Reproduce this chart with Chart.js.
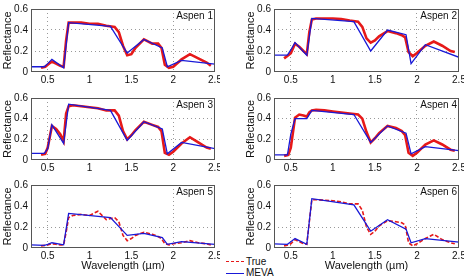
<!DOCTYPE html>
<html>
<head>
<meta charset="utf-8">
<script src="https://cdn.jsdelivr.net/npm/chart.js@4"></script>
<style>
    body { margin: 0; background: #fff; width: 471px; height: 278px; position: relative; overflow: hidden; font-family: "Liberation Sans", Arial, sans-serif; }
    canvas { position: absolute; }
    .lg-line { position: absolute; width: 18px; height: 0; }
    .lg-text { position: absolute; font-size: 10px; line-height: 12px; color: #111; }
</style>
</head>
<body>
<div class="lg-line" style="left:226px;top:261px;border-top:1.5px dashed rgb(230,25,25);"></div>
<div class="lg-text" style="left:246px;top:256px;">True</div>
<div class="lg-line" style="left:226px;top:273px;border-top:1.5px solid rgb(25,25,215);"></div>
<div class="lg-text" style="left:246px;top:267px;">MEVA</div>
<script>
// wavelengths (µm)
const trueWavelengths = [0.42, 0.47, 0.5, 0.55, 0.6, 0.65, 0.69, 0.72, 0.75, 0.8, 0.9, 1.0, 1.1, 1.2, 1.3, 1.35,
    1.4, 1.45, 1.5, 1.55, 1.65, 1.75, 1.82, 1.86, 1.9, 1.95, 2.0, 2.1, 2.2, 2.3, 2.4, 2.45];
const mevaWavelengths = [0.3, 0.46, 0.5, 0.55, 0.69, 0.75, 1.25, 1.45, 1.65, 1.87, 1.93, 2.1, 2.5];

// reflectance, true spectra
const aspen1True = [0.04, 0.05, 0.07, 0.10, 0.08, 0.06, 0.05, 0.30, 0.47, 0.47, 0.47, 0.46, 0.46, 0.44, 0.43, 0.38,
    0.25, 0.16, 0.17, 0.23, 0.31, 0.27, 0.27, 0.23, 0.07, 0.04, 0.05, 0.12, 0.17, 0.13, 0.09, 0.06];
const aspen2True = [0.13, 0.16, 0.18, 0.27, 0.24, 0.20, 0.17, 0.38, 0.50, 0.51, 0.51, 0.51, 0.505, 0.49, 0.48, 0.43,
    0.32, 0.28, 0.30, 0.34, 0.39, 0.37, 0.35, 0.33, 0.19, 0.15, 0.18, 0.25, 0.29, 0.25, 0.20, 0.19];
const aspen3True = [0.05, 0.06, 0.12, 0.33, 0.30, 0.25, 0.18, 0.45, 0.52, 0.53, 0.52, 0.51, 0.50, 0.48, 0.48, 0.43,
    0.28, 0.20, 0.24, 0.29, 0.37, 0.34, 0.32, 0.28, 0.07, 0.05, 0.08, 0.16, 0.22, 0.17, 0.12, 0.11];
const aspen4True = [0.04, 0.05, 0.12, 0.41, 0.44, 0.43, 0.42, 0.46, 0.48, 0.485, 0.48, 0.47, 0.46, 0.45, 0.44, 0.40,
    0.27, 0.17, 0.21, 0.26, 0.33, 0.31, 0.28, 0.24, 0.07, 0.04, 0.07, 0.15, 0.19, 0.15, 0.10, 0.09];
const aspen5True = [0.02, 0.025, 0.03, 0.04, 0.035, 0.03, 0.03, 0.15, 0.29, 0.31, 0.32, 0.31, 0.35, 0.27, 0.29, 0.25,
    0.12, 0.07, 0.09, 0.12, 0.15, 0.13, 0.11, 0.09, 0.04, 0.03, 0.04, 0.05, 0.07, 0.05, 0.04, 0.03];
const aspen6True = [0.02, 0.03, 0.04, 0.08, 0.06, 0.04, 0.035, 0.25, 0.46, 0.46, 0.455, 0.45, 0.44, 0.42, 0.42, 0.36,
    0.20, 0.13, 0.16, 0.21, 0.26, 0.25, 0.24, 0.22, 0.05, 0.02, 0.04, 0.09, 0.13, 0.08, 0.05, 0.04];

// reflectance, MEVA estimates
const aspen1Meva = [0.05, 0.05, 0.08, 0.12, 0.04, 0.47, 0.435, 0.18, 0.31, 0.23, 0.05, 0.11, 0.075];
const aspen2Meva = [0.16, 0.16, 0.21, 0.28, 0.16, 0.51, 0.48, 0.20, 0.40, 0.355, 0.08, 0.26, 0.14];
const aspen3Meva = [0.065, 0.065, 0.11, 0.34, 0.16, 0.54, 0.48, 0.19, 0.37, 0.30, 0.06, 0.17, 0.11];
const aspen4Meva = [0.05, 0.05, 0.25, 0.40, 0.40, 0.48, 0.44, 0.17, 0.33, 0.26, 0.06, 0.13, 0.09];
const aspen5Meva = [0.03, 0.025, 0.035, 0.05, 0.03, 0.33, 0.29, 0.12, 0.14, 0.10, 0.035, 0.06, 0.035];
const aspen6Meva = [0.04, 0.035, 0.06, 0.09, 0.035, 0.47, 0.41, 0.16, 0.27, 0.18, 0.05, 0.09, 0.055];

const panelNames = ['Aspen 1', 'Aspen 2', 'Aspen 3', 'Aspen 4', 'Aspen 5', 'Aspen 6'];
const trueSeries = [aspen1True, aspen2True, aspen3True, aspen4True, aspen5True, aspen6True];
const mevaSeries = [aspen1Meva, aspen2Meva, aspen3Meva, aspen4Meva, aspen5Meva, aspen6Meva];
const xTicks = [0.5, 1, 1.5, 2, 2.5];
const yTicks = [0, 0.2, 0.4, 0.6];

// grid lines that show up in the picture
const xGridShown = [0.5, 2];
const yGridShownTop = [0.2, 0.4];
const yGridShownBottom = [0.2];

// canvas placement for each row / column
const cols = [{ left: 0, width: 220 }, { left: 243, width: 221 }];
const rows = [
    { top: 0, height: 92, padTop: 9, axisH: 20, xTitle: false },
    { top: 88, height: 92, padTop: 10, axisH: 20, xTitle: false },
    { top: 176, height: 102, padTop: 9, axisH: 30, xTitle: true }
];

const RED = 'rgb(230,25,25)';
const BLUE = 'rgb(25,25,215)';
const GRID = '#999';
const FONT = { family: '"Liberation Sans", Arial, sans-serif', size: 10 };

const framePlugin = {
    id: 'frame',
    afterDatasetsDraw(chart, args, opts) {
        const { ctx, chartArea: a } = chart;
        ctx.save();
        ctx.strokeStyle = '#555';
        ctx.lineWidth = 1;
        ctx.strokeRect(Math.round(a.left) + 0.5, Math.round(a.top) + 0.5,
            Math.round(a.right - a.left) - 1, Math.round(a.bottom - a.top) - 1);
        ctx.fillStyle = '#111';
        ctx.font = '10px "Liberation Sans", Arial, sans-serif';
        ctx.textAlign = 'right';
        ctx.textBaseline = 'middle';
        ctx.fillText(opts.label, a.right - 2, a.top + 7);
        ctx.restore();
    }
};

function makePanel(i) {
    const col = cols[i % 2];
    const row = rows[Math.floor(i / 2)];
    const canvas = document.createElement('canvas');
    canvas.width = col.width;
    canvas.height = row.height;
    canvas.style.left = col.left + 'px';
    canvas.style.top = row.top + 'px';
    canvas.style.width = col.width + 'px';
    canvas.style.height = row.height + 'px';
    document.body.appendChild(canvas);

    const dashed = i >= 4;
    const yGridShown = i >= 4 ? yGridShownBottom : yGridShownTop;

    new Chart(canvas.getContext('2d'), {
        type: 'line',
        data: {
            datasets: [{
                label: 'True',
                data: trueWavelengths.map((w, k) => ({ x: w, y: trueSeries[i][k] })),
                borderColor: RED,
                borderWidth: dashed ? 1.6 : 2.6,
                borderDash: dashed ? [4, 2] : [],
                pointRadius: 0,
                tension: 0,
                order: 1
            }, {
                label: 'MEVA',
                data: mevaWavelengths.map((w, k) => ({ x: w, y: mevaSeries[i][k] })),
                borderColor: BLUE,
                borderWidth: 1.3,
                pointRadius: 0,
                tension: 0,
                order: 0
            }]
        },
        options: {
            responsive: false,
            animation: false,
            devicePixelRatio: 1,
            layout: { padding: { top: row.padTop, right: 5, left: 0, bottom: 0 } },
            plugins: {
                legend: { display: false },
                tooltip: { enabled: false },
                frame: { label: panelNames[i] }
            },
            scales: {
                x: {
                    type: 'linear',
                    min: 0.3,
                    max: 2.5,
                    afterBuildTicks: s => { s.ticks = xTicks.map(v => ({ value: v })); },
                    afterFit: s => { s.height = row.axisH; s.paddingLeft = 0; s.paddingRight = 0; },
                    ticks: { font: FONT, color: '#111', padding: 2, maxRotation: 0, callback: v => String(v) },
                    grid: {
                        color: c => (c.tick && xGridShown.includes(c.tick.value)) ? GRID : 'rgba(0,0,0,0)',
                        lineWidth: 1,
                        drawTicks: false
                    },
                    border: { display: false, dash: [1, 3] },
                    title: {
                        display: row.xTitle,
                        text: 'Wavelength (µm)',
                        font: { family: FONT.family, size: 11 },
                        color: '#111',
                        padding: { top: 0, bottom: 5 }
                    }
                },
                y: {
                    min: 0,
                    max: 0.6,
                    afterBuildTicks: s => { s.ticks = yTicks.map(v => ({ value: v })); },
                    afterFit: s => { s.width = 31; s.paddingTop = 0; s.paddingBottom = 0; },
                    ticks: { font: FONT, color: '#111', padding: 3, callback: v => String(Math.round(v * 10) / 10) },
                    grid: {
                        color: c => (c.tick && yGridShown.includes(Math.round(c.tick.value * 10) / 10)) ? GRID : 'rgba(0,0,0,0)',
                        lineWidth: 1,
                        drawTicks: false
                    },
                    border: { display: false, dash: [1, 3] },
                    title: {
                        display: true,
                        text: 'Reflectance',
                        font: { family: FONT.family, size: 11 },
                        color: '#111',
                        padding: { top: 1, bottom: 0 }
                    }
                }
            }
        },
        plugins: [framePlugin]
    });
}

for (let i = 0; i < 6; i++) {
    makePanel(i);
}
</script>
</body>
</html>
